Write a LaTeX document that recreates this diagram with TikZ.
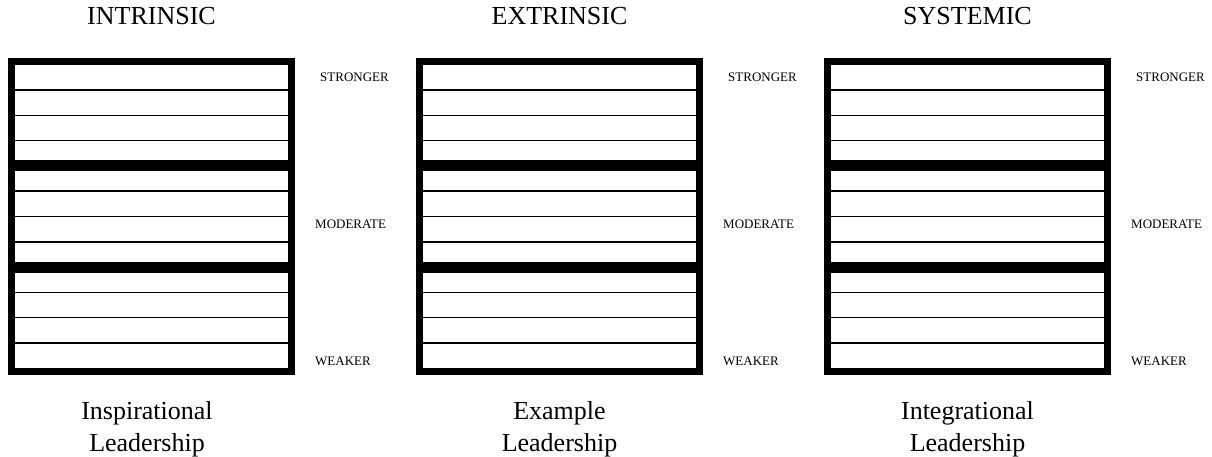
\documentclass[tikz,border=0pt]{standalone}
\usepackage{fontspec}
\setmainfont{Liberation Serif}
\begin{document}
\begin{tikzpicture}[x=1pt,y=-1pt,
  frame/.style={line width=7pt},
  rule/.style={line width=1.5pt},
  band/.style={line width=11pt},
  heading/.style={font=\fontsize{26}{32}\selectfont, anchor=base, inner sep=0pt},
  level/.style={font=\fontsize{13}{15}\selectfont, anchor=base west, inner sep=0pt},
  caption/.style={font=\fontsize{26}{32}\selectfont, align=center, anchor=north, inner sep=0pt}]
\useasboundingbox (0,0) rectangle (1212,457);
\foreach \i/\head/\cap/\cx in {0/INTRINSIC/Inspirational/147, 1/EXTRINSIC/Example/151.5, 2/SYSTEMIC/Integrational/151.5} {
  \begin{scope}[xshift=\i*408pt]
    % twelve rows, with heavy dividers between the three groups of four
    \foreach \k in {1,2,3,5,6,7,9,10,11}
      \draw[rule] (15,65+25.25*\k) -- (288,65+25.25*\k);
    \foreach \k in {4,8}
      \draw[band] (15,65+25.25*\k) -- (288,65+25.25*\k);
    \draw[frame] (11.5,61.5) rectangle (291.5,371.5);
    \node[heading] (head\i) at (151.5,25) {\head};
    \node[level] (strong\i) at (320,81.5) {STRONGER};
    \node[level] (moder\i) at (315,228.5) {MODERATE};
    \node[level] (weak\i) at (315,365.5) {WEAKER};
    \node[caption] (cap\i) at (\cx,401) {\cap\\Leadership};
  \end{scope}
}
\end{tikzpicture}
\end{document}
